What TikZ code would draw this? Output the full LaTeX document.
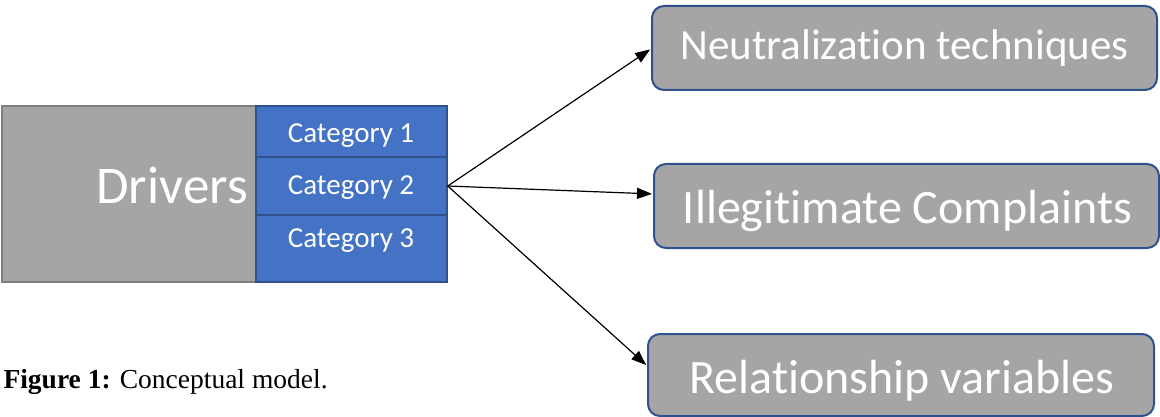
\documentclass[tikz,border=0pt]{standalone}
\usepackage{fontspec}
\setmainfont[Ligatures=NoCommon]{Carlito}
\newfontfamily\capfont{Liberation Serif}
\usetikzlibrary{arrows.meta,calc}
\definecolor{boxgray}{HTML}{A5A5A5}
\definecolor{boxblue}{HTML}{4472C4}
\definecolor{edgeblue}{HTML}{2F528F}
\definecolor{edgegray}{HTML}{7F7F7F}
\begin{document}
\begin{tikzpicture}[x=1pt,y=-1pt,
  outbox/.style={draw=edgeblue,line width=2pt,fill=boxgray,rounded corners=12pt,
    minimum width=505pt,minimum height=84pt,inner sep=0pt,anchor=north west},
  catbox/.style={draw=edgeblue,line width=1.5pt,fill=boxblue,minimum width=191pt,inner sep=0pt},
  cattext/.style={text=white,font=\fontsize{29}{34}\selectfont},
  outtext/.style={text=white,font=\fontsize{43}{50}\selectfont},
  bigtext/.style={text=white,font=\fontsize{48}{56}\selectfont},
  conn/.style={-{Triangle[length=15pt,width=11pt]},line width=1.2pt,black,shorten >=1pt}]
\useasboundingbox (0,0) rectangle (1160,417);
% drivers box
\node[draw=edgegray,line width=2pt,fill=boxgray,minimum width=341pt,minimum height=176pt,inner sep=0pt] (drv) at (172.5,194) {};
\node[text=white,font=\fontsize{53}{60}\selectfont] (drvtxt) at (172,185) {Drivers};
% categories
\node[catbox,minimum height=51pt] (cat1) at (351.5,131.5) {};
\node[catbox,minimum height=58pt] (cat2) at (351.5,186) {};
\node[catbox,minimum height=67pt] (cat3) at (351.5,248.5) {};
\node[cattext] (c1t) at (351,136) {Category 1};
\node[cattext] (c2t) at (351,188) {Category 2};
\node[cattext] (c3t) at (351,241) {Category 3};
% outcome boxes
\node[outbox] (neut) at (651,5) {};
\node[outbox] (illeg) at (653,163) {};
\node[outbox,minimum width=506pt,minimum height=82pt] (rel) at (647,333) {};
\node[outtext] (neutt) at ($(neut.center)+(0,0)$) {Neutralization techniques};
\node[bigtext] (illegt) at ($(illeg.center)+(1,5)$) {Illegitimate Complaints};
\node[bigtext] (relt) at ($(rel.center)+(1,6)$) {Relationship variables};
% connectors
\coordinate (src) at (cat2.east);
\draw[conn] (src) -- ($(neut.north west)!0.51!(neut.south west)$);
\draw[conn] (src) -- ($(illeg.north west)!0.36!(illeg.south west)$);
\draw[conn] (src) -- ($(rel.north west)!0.39!(rel.south west)$);
% caption
\node[anchor=west,font=\capfont\fontsize{27.5}{32}\selectfont] (cap) at (0,382) {\textbf{Figure 1:} Conceptual model.};
\end{tikzpicture}
\end{document}
